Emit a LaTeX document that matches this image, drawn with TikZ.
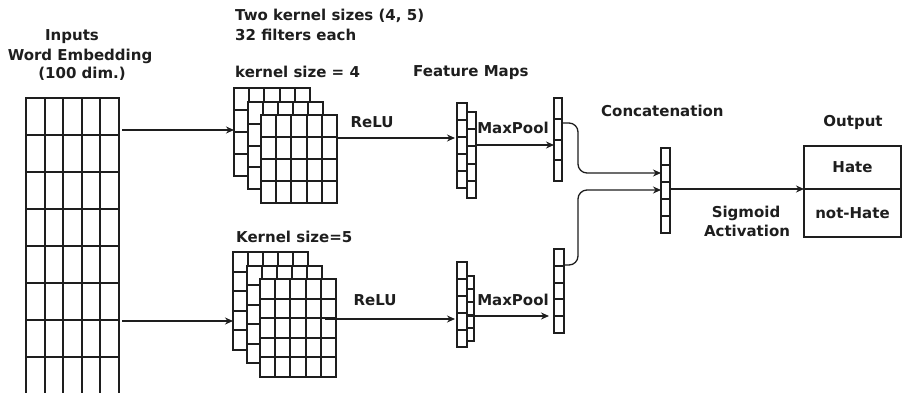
\documentclass[tikz,border=0pt]{standalone}
\usepackage{fontspec}
\setmainfont{DejaVu Sans}
\usetikzlibrary{arrows.meta}
\definecolor{ink}{HTML}{1E1E1E}
\tikzset{
  cellbox/.style={draw=ink, fill=white, line width=1.4pt, inner sep=0pt, outer sep=0pt, anchor=north west},
  gridline/.style={draw=ink, line width=1.4pt},
  arr/.style={draw=ink, line width=1.3pt, -{Stealth[length=8pt,width=7pt]}},
  lbl/.style={text=ink, font=\fontsize{15}{18}\selectfont\bfseries, inner sep=0pt},
  outbox/.style={draw=ink, line width=1.4pt, inner sep=0pt, outer sep=0pt, anchor=north west,
    minimum width=97pt, text=ink, font=\fontsize{15}{18}\selectfont\bfseries},
}
% name, x, y, w, h, cols, rows
\newcommand{\gridbox}[7]{%
  \node[cellbox, minimum width=#4pt, minimum height=#5pt] (#1) at (#2,#3) {};
  \ifnum#6>1 \foreach \i in {2,...,#6} {\draw[gridline] ({round(#2+#4*(\i-1)/#6)},{#3}) -- ++(0,#5);}\fi
  \ifnum#7>1 \foreach \j in {2,...,#7} {\draw[gridline] ({#2},{round(#3+#5*(\j-1)/#7)}) -- ++(#4,0);}\fi
}
\begin{document}
\begin{tikzpicture}[x=1pt,y=-1pt]
\useasboundingbox[fill=white] (0,0) rectangle (903,392);
\begin{scope}
\clip (0,0) rectangle (903,392);
\gridbox{inp}{26}{98}{93}{296}{5}{8}
\end{scope}
% kernel size 4 stack
\gridbox{k4back}{234}{88}{76}{88}{5}{4}
\gridbox{k4mid}{248}{102}{75}{87}{5}{4}
\gridbox{k4front}{261}{115}{76}{88}{5}{4}
% kernel size 5 stack
\gridbox{k5back}{233}{252}{75}{98}{5}{5}
\gridbox{k5mid}{247}{266}{75}{97}{5}{5}
\gridbox{k5front}{260}{279}{76}{98}{5}{5}
% feature maps
\gridbox{fm1b}{457}{103}{10}{85}{1}{5}
\gridbox{fm1f}{467}{112}{9}{86}{1}{5}
\gridbox{fm2b}{457}{262}{10}{85}{1}{5}
\gridbox{fm2f}{467}{276}{7}{65}{1}{5}
% pooled
\gridbox{pool1}{554}{98}{8}{83}{1}{4}
\gridbox{pool2}{554}{249}{10}{84}{1}{5}
% concatenation
\gridbox{concat}{661}{148}{9}{85}{1}{5}
% output
\node[outbox, minimum height=43pt] (hate) at (804,146) {Hate};
\node[outbox, minimum height=48pt] (nothate) at (804,189) {not-Hate};

% helper coordinates
\coordinate (a1) at (0,130);
\coordinate (a2) at (0,321);
\coordinate (r1) at (0,138);
\coordinate (r2) at (325,319);
\coordinate (m1) at (0,145);
\coordinate (m2) at (468,316);
\coordinate (c1) at (0,123);
\coordinate (c2) at (0,173);
\coordinate (c3) at (0,265);
\coordinate (c4) at (0,190);
\coordinate (bend) at (578,0);

% connectors
\draw[arr, shorten <=3pt] (inp.east |- a1) -- (k4back.west |- a1);
\draw[arr, shorten <=3pt] (inp.east |- a2) -- (k5back.west |- a2);
\draw[arr, shorten >=2pt] (k4front.east |- r1) -- (fm1b.west |- r1);
\draw[arr, shorten >=2pt] (r2) -- (fm2b.west |- r2);
\draw[arr] (fm1f.east |- m1) -- (pool1.west |- m1);
\draw[arr, shorten >=5pt] (m2) -- (pool2.west |- m2);
\draw[arr, rounded corners=9pt] (pool1.east |- c1) -| (bend |- c2) -- (concat.west |- c2);
\draw[arr, rounded corners=9pt] (pool2.east |- c3) -| (bend |- c4) -- (concat.west |- c4);
\draw[arr] (concat.east |- hate.south west) -- (hate.south west);

% labels
\node[lbl] (tInputs) at (72,37) {Inputs};
\node[lbl] (tWord) at (80,56) {Word Embedding};
\node[lbl] (tDim) at (82,74) {(100 dim.)};
\node[lbl, anchor=west] (tTwo) at (235,16) {Two kernel sizes (4, 5)};
\node[lbl, anchor=west] (tFilt) at (235,35) {32 filters each};
\node[lbl, anchor=west] (tK4) at (235,72) {kernel size = 4};
\node[lbl, anchor=west] (tK5) at (236,237) {Kernel size=5};
\node[lbl, anchor=west] (tFM) at (413,73) {Feature Maps};
\node[lbl] (tRelu1) at (372,122) {ReLU};
\node[lbl] (tRelu2) at (375,300) {ReLU};
\node[lbl] (tMax1) at (513,128) {MaxPool};
\node[lbl] (tMax2) at (513,300) {MaxPool};
\node[lbl, anchor=west] (tCat) at (601,111) {Concatenation};
\node[lbl] (tOut) at (853,122) {Output};
\node[lbl] (tSig) at (746,213) {Sigmoid};
\node[lbl] (tAct) at (747,231) {Activation};
\end{tikzpicture}
\end{document}
